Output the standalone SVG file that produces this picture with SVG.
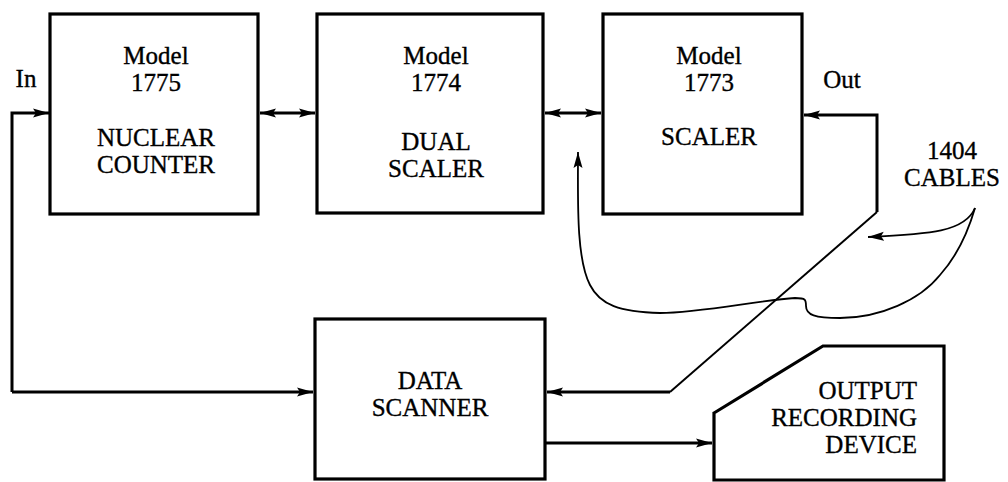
<svg xmlns="http://www.w3.org/2000/svg" width="1008" height="482" viewBox="0 0 1008 482">
<style>
.box{fill:#fff;stroke:#000;stroke-width:3.2;stroke-linejoin:miter}
.t{font-family:"Liberation Serif","Times New Roman",serif;font-size:25px;fill:#000;text-anchor:middle;stroke:#000;stroke-width:0.35}
.c{fill:none;stroke:#000;stroke-width:3}
.thin{fill:none;stroke:#000;stroke-width:2}
.curve{fill:none;stroke:#000;stroke-width:1.8}
</style>
<defs>
<marker id="ah" markerUnits="userSpaceOnUse" markerWidth="20" markerHeight="12" refX="16" refY="5" orient="auto-start-reverse" viewBox="0 0 20 10">
<path d="M0,0.5 L16,5 L0,9.5 L3,5 Z" fill="#000"/>
</marker>
</defs>
<rect width="1008" height="482" fill="#fff"/>
<g id="connectors">
<polyline class="c" points="12,392 12,113 49,113" marker-end="url(#ah)"/>
<polyline class="c" points="12,392 313,392" marker-end="url(#ah)"/>
<line class="c" x1="260" y1="113" x2="315" y2="113" marker-start="url(#ah)" marker-end="url(#ah)"/>
<line class="c" x1="545" y1="113" x2="601" y2="113" marker-start="url(#ah)" marker-end="url(#ah)"/>
<polyline class="c" points="877,212 877,115 804,115" marker-end="url(#ah)"/>
<polyline class="thin" points="877,212 670,392"/>
<line class="c" x1="670" y1="392" x2="547" y2="392" marker-end="url(#ah)"/>
<line class="c" x1="545" y1="443" x2="712" y2="443" marker-end="url(#ah)"/>
<path class="curve" d="M975,208 C965,232 930,234 868,237" marker-end="url(#ah)"/>
<path class="curve" d="M975,208 C968,232 958,255 940,275 C920,300 880,318 840,318 C815,318 806,315 806,306 C806,300 806,298 795,298 C760,300 700,313 660,313 C620,312 600,305 590,285 C576,258 578,200 578,152" marker-end="url(#ah)"/>
</g>
<g id="nuclear-counter">
<rect class="box" x="50" y="14" width="208" height="200"/>
<text class="t" x="156" y="64">Model</text>
<text class="t" x="156" y="91">1775</text>
<text class="t" x="156" y="146">NUCLEAR</text>
<text class="t" x="156" y="173">COUNTER</text>
</g>
<g id="dual-scaler">
<rect class="box" x="317" y="14" width="226" height="199"/>
<text class="t" x="436" y="64">Model</text>
<text class="t" x="436" y="91">1774</text>
<text class="t" x="436" y="150">DUAL</text>
<text class="t" x="436" y="177">SCALER</text>
</g>
<g id="scaler">
<rect class="box" x="603" y="14" width="199" height="200"/>
<text class="t" x="709" y="64">Model</text>
<text class="t" x="709" y="91">1773</text>
<text class="t" x="709" y="145">SCALER</text>
</g>
<g id="data-scanner">
<rect class="box" x="315" y="319" width="230" height="160"/>
<text class="t" x="430" y="389">DATA</text>
<text class="t" x="430" y="416">SCANNER</text>
</g>
<g id="output-recording-device">
<path class="box" d="M714,413 L823,346 L944,346 L944,480 L714,480 Z"/>
<text class="t" x="917" y="399" style="text-anchor:end">OUTPUT</text>
<text class="t" x="917" y="426" style="text-anchor:end">RECORDING</text>
<text class="t" x="917" y="453" style="text-anchor:end">DEVICE</text>
</g>
<g id="labels">
<text class="t" x="26" y="87">In</text>
<text class="t" x="842" y="88">Out</text>
<text class="t" x="952" y="159">1404</text>
<text class="t" x="952" y="186">CABLES</text>
</g>
</svg>
